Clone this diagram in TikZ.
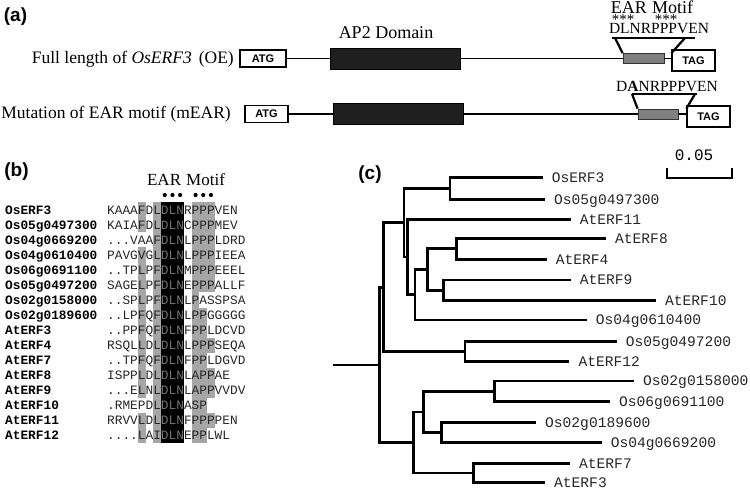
\documentclass[tikz,border=0pt]{standalone}
\usepackage{fontspec}
\setmainfont{Liberation Serif}
\setsansfont{Liberation Sans}
\setmonofont{Liberation Mono}

\begin{document}
\begin{tikzpicture}[x=1pt, y=-1pt,
    panel/.style={inner sep=0pt, font=\fontsize{19}{19}\sffamily\bfseries},
    caption/.style={inner sep=0pt, text height=11.5pt, text depth=0pt, font=\fontsize{17.5}{18}\selectfont},
    codon/.style={rectangle, draw, line width=1.3pt, inner sep=0pt, font=\fontsize{11}{11}\sffamily\bfseries},
    apblock/.style={rectangle, draw, fill=black!88, inner sep=0pt},
    motifbox/.style={rectangle, draw=black!80, fill=black!50, line width=0.8pt, inner sep=0pt},
    gene/.style={line width=1.4pt},
    stars/.style={inner sep=0pt, font=\fontsize{15}{15}\selectfont},
    seqname/.style={anchor=west, inner sep=0pt, text height=8.5pt, text depth=0pt, font=\fontsize{12.8}{13}\ttfamily\bfseries},
    seqtext/.style={anchor=west, inner sep=0pt, text height=8.5pt, text depth=0pt, text=black!85, font=\fontsize{12.8}{13}\ttfamily},
    leaf/.style={anchor=west, inner xsep=9pt, inner ysep=0pt, text height=9.6pt, text depth=0pt, text=black!85, font=\fontsize{14.6}{15}\ttfamily},
    branch/.style={line width=2.8pt}
  ]

\useasboundingbox (0,0) rectangle (750,489);

% (a) constructs
\node[panel] (pa) at (15.5,17) {(a)};

\node[caption, anchor=east] (oe)   at (234,58)  {Full length of \textit{OsERF3}\hspace{0.4em}(OE)};
\node[codon, minimum width=46pt, minimum height=17pt] (atg1) at (263,58.5) {ATG};
\node[apblock, minimum width=130pt, minimum height=21pt] (ap1) at (395,58.5) {};
\node[motifbox, minimum width=41pt, minimum height=10pt] (ear1) at (643.5,58.5) {};
\node[codon, minimum width=43pt, minimum height=21pt] (tag1) at (693.5,60.5) {TAG};
\node[caption, font=\fontsize{18}{18}\selectfont] (ap2lbl) at (386,33) {AP2 Domain};

\draw[gene] (atg1) -- (ap1);
\draw[gene] (ap1) -- (ear1);
\draw[gene] (ear1.east) -- (ear1.east -| tag1.west);

\node[caption, font=\fontsize{18}{18}\selectfont] (earlbl) at (652,8) {EAR\hspace{0.3em}Motif};
\node[stars] (star1) at (623,20) {***};
\node[stars] (star2) at (666,20) {***};
\node[caption, font=\fontsize{15.5}{16}\selectfont] (wt) at (659,28) {DLNRPPPVEN};

\coordinate (br1l) at (612,38);
\coordinate (br1r) at (695,38);
\draw[line width=1.8pt] (br1l) -- (br1r);
\draw[line width=2.2pt] ([xshift=3]br1l) -- (ear1.north west);
\draw[line width=2.2pt] ([xshift=-10]br1r) -- (ear1.north -| tag1.west);

\node[caption, anchor=east] (mear) at (231,113) {Mutation of EAR motif (mEAR)};
\node[codon, minimum width=43pt, minimum height=17pt] (atg2) at (266.5,114) {ATG};
\node[apblock, minimum width=130pt, minimum height=21pt] (ap2) at (398,114) {};
\node[motifbox, minimum width=40pt, minimum height=10pt] (ear2) at (658,114) {};
\node[codon, minimum width=43pt, minimum height=21pt] (tag2) at (708.5,116.5) {TAG};

\draw[gene] (atg2) -- (ap2);
\draw[gene] (ap2) -- (ear2);
\draw[gene] (ear2.east) -- (ear2.east -| tag2.west);

\node[caption, font=\fontsize{15.5}{16}\selectfont] (mut) at (667,86) {D\textbf{A}NRPPPVEN};

\coordinate (br2l) at (632,94);
\coordinate (br2r) at (697,94);
\draw[line width=1.8pt] (br2l) -- (br2r);
\draw[line width=2.2pt] (br2l) -- (ear2.north west);
\draw[line width=2.2pt] ([xshift=-2]br2r) -- (ear2.north -| tag2.west);

% (b) alignment
\node[panel] (pb) at (16.5,172) {(b)};
\node[caption, font=\fontsize{17}{17}\selectfont] (earb) at (186,180) {EAR\hspace{0.3em}Motif};

\fill[black!35] (137.8,202.5) rectangle (145.5,232.5);
\fill[black!35] (137.8,247.5) rectangle (145.5,397.5);
\fill[black!35] (137.8,412.5) rectangle (145.5,442.5);
\fill[black!35] (153.2,202.5) rectangle (160.9,442.5);
\fill[black!35] (191.7,202.5) rectangle (214.8,292.5);
\fill[black!35] (191.7,292.5) rectangle (199.4,307.5);
\fill[black!35] (191.7,307.5) rectangle (207.1,337.5);
\fill[black!35] (191.7,337.5) rectangle (214.8,352.5);
\fill[black!35] (191.7,352.5) rectangle (207.1,367.5);
\fill[black!35] (191.7,367.5) rectangle (214.8,397.5);
\fill[black!35] (191.7,397.5) rectangle (207.1,412.5);
\fill[black!35] (191.7,412.5) rectangle (214.8,427.5);
\fill[black!35] (191.7,427.5) rectangle (207.1,442.5);
\fill[black] (160.9,202.5) rectangle (184,442.5);

\foreach \c in {8,9,10,12,13,14}
  \fill ({107+7.7*(\c-0.5)},195) circle (2.1);

\node[seqname] (n1)  at (5,210) {OsERF3};
\node[seqname] (n2)  at (5,225) {Os05g0497300};
\node[seqname] (n3)  at (5,240) {Os04g0669200};
\node[seqname] (n4)  at (5,255) {Os04g0610400};
\node[seqname] (n5)  at (5,270) {Os06g0691100};
\node[seqname] (n6)  at (5,285) {Os05g0497200};
\node[seqname] (n7)  at (5,300) {Os02g0158000};
\node[seqname] (n8)  at (5,315) {Os02g0189600};
\node[seqname] (n9)  at (5,330) {AtERF3};
\node[seqname] (n10) at (5,345) {AtERF4};
\node[seqname] (n11) at (5,360) {AtERF7};
\node[seqname] (n12) at (5,375) {AtERF8};
\node[seqname] (n13) at (5,390) {AtERF9};
\node[seqname] (n14) at (5,405) {AtERF10};
\node[seqname] (n15) at (5,420) {AtERF11};
\node[seqname] (n16) at (5,435) {AtERF12};

\node[seqtext] (s1)  at (107,210) {KAAAFDL\textcolor{black!55}{DLN}RPPPVEN};
\node[seqtext] (s2)  at (107,225) {KAIAFDL\textcolor{black!55}{DLN}CPPPMEV};
\node[seqtext] (s3)  at (107,240) {...VAAF\textcolor{black!55}{DLN}LPPPLDRD};
\node[seqtext] (s4)  at (107,255) {PAVGVGL\textcolor{black!55}{DLN}LPPPIEEA};
\node[seqtext] (s5)  at (107,270) {..TPLPF\textcolor{black!55}{DLN}MPPPEEEL};
\node[seqtext] (s6)  at (107,285) {SAGELPF\textcolor{black!55}{DLN}EPPPALLF};
\node[seqtext] (s7)  at (107,300) {..SPLPF\textcolor{black!55}{DLN}LPASSPSA};
\node[seqtext] (s8)  at (107,315) {..LPFQF\textcolor{black!55}{DLN}LPPGGGGG};
\node[seqtext] (s9)  at (107,330) {..PPFQF\textcolor{black!55}{DLN}FPPLDCVD};
\node[seqtext] (s10) at (107,345) {RSQLLDL\textcolor{black!55}{DLN}LPPPSEQA};
\node[seqtext] (s11) at (107,360) {..TPFQF\textcolor{black!55}{DLN}FPPLDGVD};
\node[seqtext] (s12) at (107,375) {ISPPLDL\textcolor{black!55}{DLN}LAPPAE};
\node[seqtext] (s13) at (107,390) {...ELNL\textcolor{black!55}{DLN}LAPPVVDV};
\node[seqtext] (s14) at (107,405) {.RMEPDL\textcolor{black!55}{DLN}ASP};
\node[seqtext] (s15) at (107,420) {RRVVLDL\textcolor{black!55}{DLN}FPPPPEN};
\node[seqtext] (s16) at (107,435) {....LAI\textcolor{black!55}{DLN}EPPLWL};

% (c) tree
\node[panel] (pc) at (370,175) {(c)};
\node[inner sep=0pt, font=\fontsize{16}{16}\ttfamily] (scale) at (694,155) {0.05};
\draw[line width=2.4pt] (666.7,168.3) -- (666.7,178.3) -- (731.7,178.3) -- (731.7,168.3);

\coordinate (root) at (333,364.9);
\coordinate (nR) at (379.3,364.9);
\coordinate (nG) at (383.3,287.2);
\coordinate (nA) at (404,222.7);
\coordinate (nN) at (450,188.5);
\coordinate (nB) at (407.3,257);
\coordinate (nC) at (415,294.7);
\coordinate (nD) at (427.3,269.6);
\coordinate (nE) at (456.7,248.8);
\coordinate (nF) at (443.3,290.3);
\coordinate (nH) at (465,351.7);
\coordinate (nI) at (413.3,442.5);
\coordinate (nJ) at (423.3,412);
\coordinate (nL) at (494.3,391.3);
\coordinate (nM) at (441.7,432.7);
\coordinate (nK) at (473.3,473);

\node[leaf] (osERF3)       at (542.7,177.7) {OsERF3};
\node[leaf] (os05g0497300) at (545,199.3)   {Os05g0497300};
\node[leaf] (atERF11)      at (570.7,219.3) {AtERF11};
\node[leaf] (atERF8)       at (606,238.3)   {AtERF8};
\node[leaf] (atERF4)       at (546.7,259.3) {AtERF4};
\node[leaf] (atERF9)       at (570.7,280)   {AtERF9};
\node[leaf] (atERF10)      at (656,300.7)   {AtERF10};
\node[leaf] (os04g0610400) at (586.7,320)   {Os04g0610400};
\node[leaf] (os05g0497200) at (616.7,341.7) {Os05g0497200};
\node[leaf] (atERF12)      at (569.3,361.7) {AtERF12};
\node[leaf] (os02g0158000) at (634,381)     {Os02g0158000};
\node[leaf] (os06g0691100) at (610,401.7)   {Os06g0691100};
\node[leaf] (os02g0189600) at (536,422.7)   {Os02g0189600};
\node[leaf] (os04g0669200) at (601.7,442.7) {Os04g0669200};
\node[leaf] (atERF7)       at (570,463.3)   {AtERF7};
\node[leaf] (atERF3)       at (545,482.7)   {AtERF3};

\draw[branch] (root) -- (nR);
\draw[branch] (nR) |- (nG) (nR) |- (nI);
\draw[branch] (nG) |- (nA) (nG) |- (nH);
\draw[branch] (nA) |- (nN) (nA) |- (nB);
\draw[branch] (nN) |- (osERF3.west) (nN) |- (os05g0497300.west);
\draw[branch] (nB) |- (atERF11.west) (nB) |- (nC);
\draw[branch] (nC) |- (nD) (nC) |- (os04g0610400.west);
\draw[branch] (nD) |- (nE) (nD) |- (nF);
\draw[branch] (nE) |- (atERF8.west) (nE) |- (atERF4.west);
\draw[branch] (nF) |- (atERF9.west) (nF) |- (atERF10.west);
\draw[branch] (nH) |- (os05g0497200.west) (nH) |- (atERF12.west);
\draw[branch] (nI) |- (nJ) (nI) |- (nK);
\draw[branch] (nJ) |- (nL) (nJ) |- (nM);
\draw[branch] (nL) |- (os02g0158000.west) (nL) |- (os06g0691100.west);
\draw[branch] (nM) |- (os02g0189600.west) (nM) |- (os04g0669200.west);
\draw[branch] (nK) |- (atERF7.west) (nK) |- (atERF3.west);

\end{tikzpicture}
\end{document}
